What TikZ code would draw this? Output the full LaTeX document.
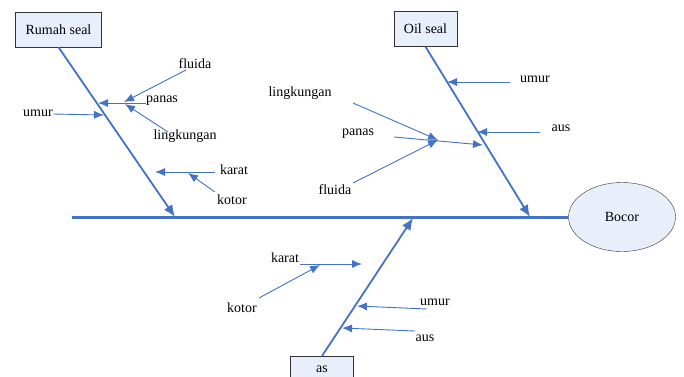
\documentclass[tikz,border=0pt]{standalone}
\usepackage{fontspec}
\setmainfont{Liberation Serif}
\usetikzlibrary{arrows.meta,shapes.geometric}

\definecolor{boneblue}{RGB}{68,114,196}
\definecolor{boxfill}{RGB}{232,238,250}

\begin{document}
\begin{tikzpicture}[
    x=1pt, y=-1pt,
    every node/.style={font=\rmfamily\fontsize{14}{16}\selectfont},
    cause/.style={draw=black!80, fill=boxfill, inner xsep=10pt, minimum height=35pt},
    effect/.style={ellipse, draw=black!80, fill=boxfill, minimum width=107pt, minimum height=69pt},
    factor/.style={inner sep=1pt},
    backbone/.style={line width=3pt, draw=boneblue},
    spine/.style={-{Latex[length=12pt,width=10pt]}, line width=1.8pt, draw=boneblue},
    rib/.style={-{Latex[length=10pt,width=8pt]}, line width=0.9pt, draw=boneblue}
  ]
    \clip (0,0) rectangle (684,376);

    \node[effect] (bocor) at (622,217) {Bocor};
    \node[cause] (rumah) at (58.5,29.5) {Rumah seal};
    \node[cause] (oil) at (425.5,29) {Oil seal};
    \node[cause, anchor=north, minimum height=26pt, minimum width=63pt] (as) at (322,356) {as};

    \coordinate (tail) at (72,217);
    \coordinate (rumahTip) at (175,217);
    \coordinate (oilTip) at (530,217);
    \coordinate (asTip) at (413,218);

    \node[factor] (rUmur) at (38,113) {umur};
    \node[factor] (rPanas) at (162,101) {panas};
    \node[factor] (rFluida) at (195,64) {fluida};
    \node[factor] (rLingk) at (185,136) {lingkungan};
    \node[factor] (rKarat) at (234,170) {karat};
    \node[factor] (rKotor) at (232,200) {kotor};

    \node[factor] (oUmur) at (535,79) {umur};
    \node[factor] (oAus) at (561,128) {aus};
    \node[factor] (oPanas) at (358,134) {panas};
    \node[factor] (oLingk) at (300,93) {lingkungan};
    \node[factor] (oFluida) at (335,190) {fluida};

    \node[factor] (aKarat) at (285,258) {karat};
    \node[factor] (aKotor) at (242,308) {kotor};
    \node[factor] (aUmur) at (435,302) {umur};
    \node[factor] (aAus) at (425,338) {aus};

    \coordinate (rUmurS) at (53,114);   \coordinate (rUmurE) at (104,115);
    \coordinate (rPanasS) at (146,103); \coordinate (rPanasE) at (98,103);
    \coordinate (rFluidaS) at (186,70); \coordinate (rFluidaE) at (124,102);
    \coordinate (rLingkS) at (168,132); \coordinate (rLingkE) at (125,104);
    \coordinate (rKaratS) at (215,172); \coordinate (rKaratE) at (155,172);
    \coordinate (rKotorS) at (215,192); \coordinate (rKotorE) at (188,173);

    \coordinate (oUmurS) at (510,82);   \coordinate (oUmurE) at (447,82);
    \coordinate (oAusS) at (540,132);   \coordinate (oAusE) at (477,132);
    \coordinate (oPanasS) at (394,137); \coordinate (oPanasE) at (483,145);
    \coordinate (oLingkS) at (353,103); \coordinate (oJoin) at (438,140);
    \coordinate (oFluidaS) at (353,183);

    \coordinate (aKaratS) at (300,264); \coordinate (aKaratE) at (362,264);
    \coordinate (aKotorS) at (259,298); \coordinate (aKotorE) at (320,265);
    \coordinate (aUmurS) at (427,309);  \coordinate (aUmurE) at (357,306);
    \coordinate (aAusS) at (415,331);   \coordinate (aAusE) at (342,328);

    \draw[backbone] (tail) -- (bocor.west);
    \draw[spine] (rumah.south) -- (rumahTip);
    \draw[spine] (oil.south) -- (oilTip);
    \draw[spine] (as.north) -- (asTip);

    \draw[rib] (rUmurS) -- (rUmurE);
    \draw[rib] (rPanasS) -- (rPanasE);
    \draw[rib] (rFluidaS) -- (rFluidaE);
    \draw[rib] (rLingkS) -- (rLingkE);
    \draw[rib] (rKaratS) -- (rKaratE);
    \draw[rib] (rKotorS) -- (rKotorE);

    \draw[rib] (oUmurS) -- (oUmurE);
    \draw[rib] (oAusS) -- (oAusE);
    \draw[rib] (oPanasS) -- (oPanasE);
    \draw[rib] (oLingkS) -- (oJoin);
    \draw[rib] (oFluidaS) -- (oJoin);

    \draw[rib] (aKaratS) -- (aKaratE);
    \draw[rib] (aKotorS) -- (aKotorE);
    \draw[rib] (aUmurS) -- (aUmurE);
    \draw[rib] (aAusS) -- (aAusE);
  \end{tikzpicture}
\end{document}
